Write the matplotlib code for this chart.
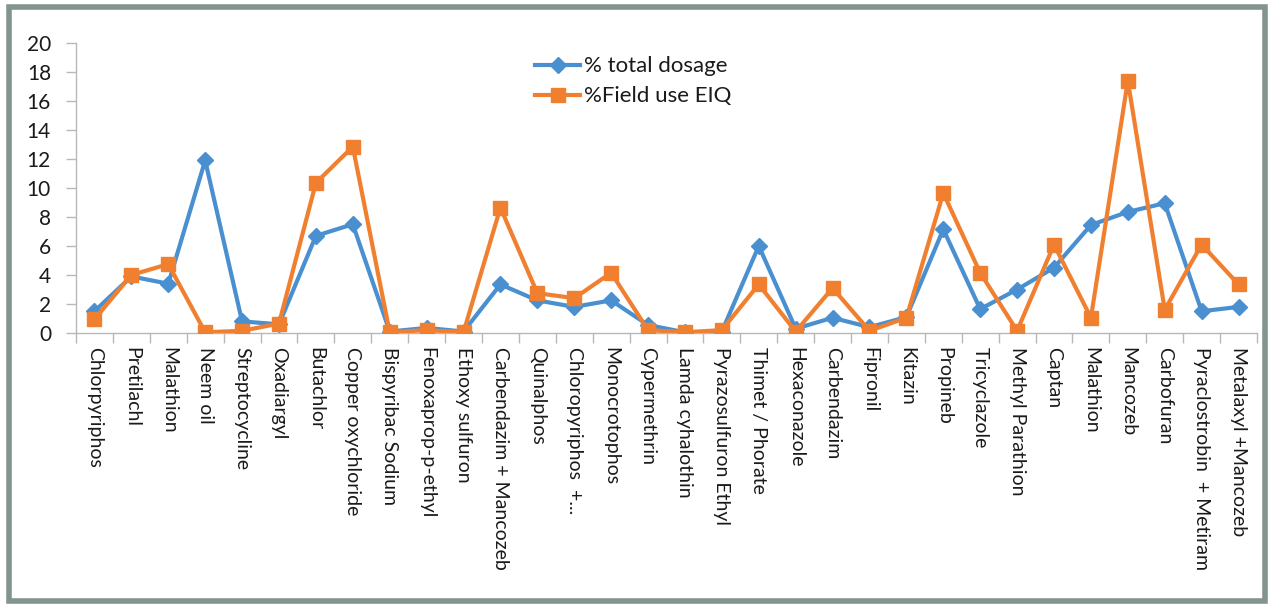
import matplotlib.pyplot as plt
from matplotlib.patches import Rectangle

categories = [
    "Chlorpyriphos", "Pretilachl", "Malathion", "Neem oil", "Streptocycline",
    "Oxadiargyl", "Butachlor", "Copper oxychloride", "Bispyribac Sodium",
    "Fenoxaprop-p-ethyl", "Ethoxy sulfuron", "Carbendazim + Mancozeb",
    "Quinalphos", "Chloropyriphos  +...", "Monocrotophos", "Cypermethrin",
    "Lamda cyhalothin", "Pyrazosulfuron Ethyl", "Thimet / Phorate",
    "Hexaconazole", "Carbendazim", "Fipronil", "Kitazin", "Propineb",
    "Tricyclazole", "Methyl Parathion", "Captan", "Malathion", "Mancozeb",
    "Carbofuran", "Pyraclostrobin  + Metiram", "Metalaxyl +Mancozeb",
]

total_dosage = [1.5, 3.9, 3.4, 11.9, 0.8, 0.6, 6.7, 7.5, 0.1, 0.35, 0.1, 3.35,
                2.25, 1.8, 2.25, 0.55, 0.05, 0.1, 6.0, 0.3, 1.05, 0.4, 1.1, 7.15,
                1.65, 3.0, 4.5, 7.45, 8.35, 8.95, 1.5, 1.8]

field_eiq = [0.95, 4.0, 4.75, 0.05, 0.15, 0.65, 10.35, 12.85, 0.05, 0.2, 0.05, 8.65,
             2.75, 2.4, 4.15, 0.2, 0.05, 0.2, 3.35, 0.1, 3.1, 0.15, 1.05, 9.65,
             4.15, 0.15, 6.1, 1.05, 17.4, 1.6, 6.1, 3.35]

blue = "#4a90d0"
orange = "#f08030"
axis_grey = "#b8b8b8"
text_col = "#1a1a1a"

plt.rcParams['font.family'] = ['Lato', 'DejaVu Sans']

fig = plt.figure(figsize=(12.73, 6.04), dpi=100)
fig.patch.set_facecolor("white")

# grey frame around the whole chart
fig.patches.append(Rectangle((8.5 / 1273, 3.5 / 604), 1256 / 1273, 594 / 604,
                             transform=fig.transFigure, fill=False,
                             edgecolor="#82948f", linewidth=4))

ax = fig.add_axes([76 / 1273, (604 - 333) / 604, 1181 / 1273, 290 / 604])

x = list(range(len(categories)))
ax.plot(x, total_dosage, color=blue, lw=3, marker="D", ms=8,
        label="% total dosage", zorder=3)
ax.plot(x, field_eiq, color=orange, lw=3, marker="s", ms=10,
        label="%Field use EIQ", zorder=4)

ax.set_xlim(-0.5, len(categories) - 0.5)
ax.set_ylim(0, 20)
ax.set_yticks(range(0, 21, 2))
ax.tick_params(axis="y", labelsize=15, colors=axis_grey, labelcolor=text_col,
               length=7, width=1, pad=11)

# x ticks sit between the categories, labels centred on the points
ax.set_xticks([i - 0.5 for i in range(len(categories) + 1)])
ax.set_xticklabels([])
ax.set_xticks(x, minor=True)
ax.set_xticklabels(categories, minor=True, rotation=-90, fontsize=14,
                   color=text_col, va="top", ha="center")
ax.tick_params(axis="x", which="major", colors=axis_grey, length=7, width=1)
ax.tick_params(axis="x", which="minor", length=0, pad=10)

for side in ["top", "right"]:
    ax.spines[side].set_visible(False)
for side in ["left", "bottom"]:
    ax.spines[side].set_color(axis_grey)
    ax.spines[side].set_linewidth(1)

leg = ax.legend(loc="upper left", bbox_to_anchor=((522 - 76) / 1181, 1.0),
                frameon=False, fontsize=16, handlelength=2.0, handletextpad=0.2,
                labelspacing=0.45, borderaxespad=0.2)
for t in leg.get_texts():
    t.set_color(text_col)

plt.savefig("out.png", dpi=100)
